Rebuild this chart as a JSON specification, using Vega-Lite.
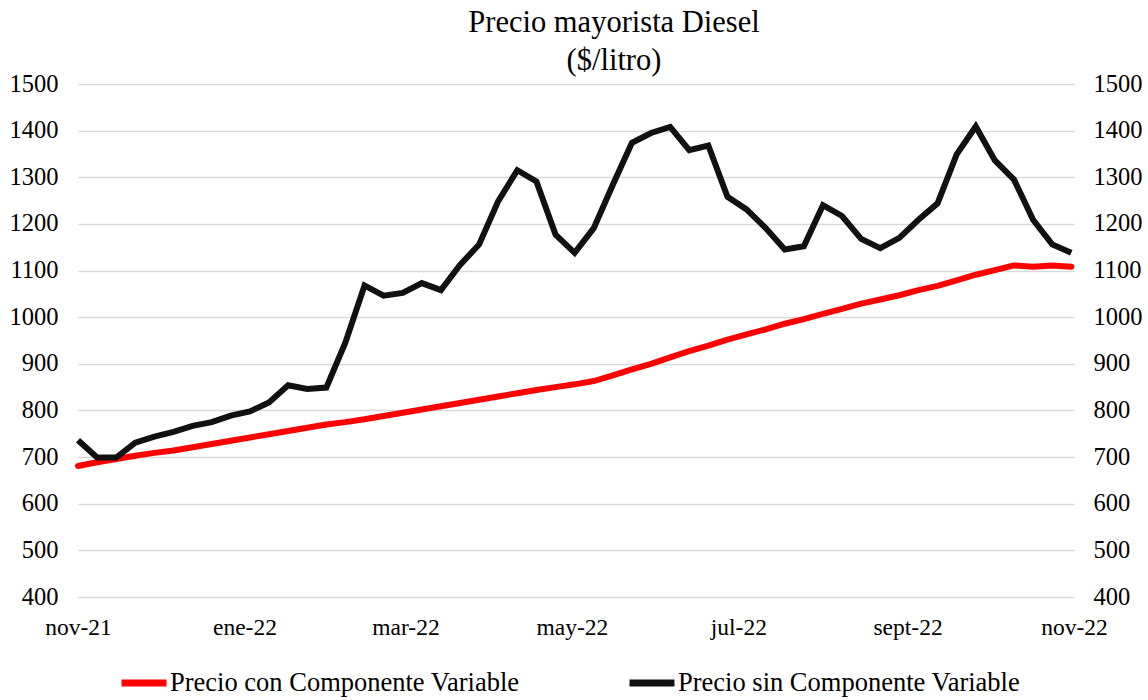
{
  "$schema": "https://vega.github.io/schema/vega-lite/v6.json",
  "width": 996,
  "height": 513,
  "autosize": {"type": "none"},
  "padding": {"left": 78, "top": 84, "right": 74, "bottom": 103},
  "background": "white",
  "config": {
    "view": {"stroke": null},
    "font": "Liberation Serif"
  },
  "title": {
    "text": ["Precio mayorista Diesel", "($/litro)"],
    "font": "Liberation Serif",
    "fontSize": 30.5,
    "fontWeight": "normal",
    "color": "#000000",
    "lineHeight": 38,
    "anchor": "middle",
    "frame": "group",
    "baseline": "alphabetic",
    "offset": 12,
    "dx": 38,
    "dy": 41
  },
  "data": {
    "values": [
      {"fecha": "2021-11-01T00:00", "con": 681, "sin": 736},
      {"fecha": "2021-11-08T00:00", "con": 689, "sin": 699},
      {"fecha": "2021-11-15T00:00", "con": 696, "sin": 699},
      {"fecha": "2021-11-22T00:00", "con": 703, "sin": 731},
      {"fecha": "2021-11-29T00:00", "con": 709, "sin": 744},
      {"fecha": "2021-12-06T00:00", "con": 714, "sin": 754},
      {"fecha": "2021-12-13T00:00", "con": 721, "sin": 767},
      {"fecha": "2021-12-20T00:00", "con": 728, "sin": 775},
      {"fecha": "2021-12-27T00:00", "con": 735, "sin": 789},
      {"fecha": "2022-01-03T00:00", "con": 742, "sin": 798},
      {"fecha": "2022-01-10T00:00", "con": 749, "sin": 817},
      {"fecha": "2022-01-17T00:00", "con": 756, "sin": 854},
      {"fecha": "2022-01-24T00:00", "con": 763, "sin": 846},
      {"fecha": "2022-01-31T00:00", "con": 770, "sin": 849},
      {"fecha": "2022-02-07T00:00", "con": 775, "sin": 946},
      {"fecha": "2022-02-14T00:00", "con": 781, "sin": 1068},
      {"fecha": "2022-02-21T00:00", "con": 788, "sin": 1046},
      {"fecha": "2022-02-28T00:00", "con": 795, "sin": 1052},
      {"fecha": "2022-03-07T00:00", "con": 802, "sin": 1073},
      {"fecha": "2022-03-14T00:00", "con": 809, "sin": 1058},
      {"fecha": "2022-03-21T00:00", "con": 816, "sin": 1112},
      {"fecha": "2022-03-28T00:00", "con": 823, "sin": 1156},
      {"fecha": "2022-04-04T00:00", "con": 830, "sin": 1249},
      {"fecha": "2022-04-11T00:00", "con": 837, "sin": 1315},
      {"fecha": "2022-04-18T00:00", "con": 844, "sin": 1291},
      {"fecha": "2022-04-25T00:00", "con": 850, "sin": 1177},
      {"fecha": "2022-05-02T00:00", "con": 856, "sin": 1138},
      {"fecha": "2022-05-09T00:00", "con": 863, "sin": 1191},
      {"fecha": "2022-05-16T00:00", "con": 875, "sin": 1284},
      {"fecha": "2022-05-23T00:00", "con": 888, "sin": 1374},
      {"fecha": "2022-05-30T00:00", "con": 900, "sin": 1395},
      {"fecha": "2022-06-06T00:00", "con": 914, "sin": 1408},
      {"fecha": "2022-06-13T00:00", "con": 927, "sin": 1358},
      {"fecha": "2022-06-20T00:00", "con": 939, "sin": 1368},
      {"fecha": "2022-06-27T00:00", "con": 952, "sin": 1258},
      {"fecha": "2022-07-04T00:00", "con": 963, "sin": 1231},
      {"fecha": "2022-07-11T00:00", "con": 974, "sin": 1191},
      {"fecha": "2022-07-18T00:00", "con": 986, "sin": 1145},
      {"fecha": "2022-07-25T00:00", "con": 996, "sin": 1152},
      {"fecha": "2022-08-01T00:00", "con": 1007, "sin": 1240},
      {"fecha": "2022-08-08T00:00", "con": 1018, "sin": 1217},
      {"fecha": "2022-08-15T00:00", "con": 1029, "sin": 1168},
      {"fecha": "2022-08-22T00:00", "con": 1038, "sin": 1148},
      {"fecha": "2022-08-29T00:00", "con": 1047, "sin": 1170},
      {"fecha": "2022-09-05T00:00", "con": 1058, "sin": 1209},
      {"fecha": "2022-09-12T00:00", "con": 1067, "sin": 1244},
      {"fecha": "2022-09-19T00:00", "con": 1079, "sin": 1349},
      {"fecha": "2022-09-26T00:00", "con": 1091, "sin": 1409},
      {"fecha": "2022-10-03T00:00", "con": 1101, "sin": 1336},
      {"fecha": "2022-10-10T00:00", "con": 1111, "sin": 1295},
      {"fecha": "2022-10-17T00:00", "con": 1108, "sin": 1209},
      {"fecha": "2022-10-24T00:00", "con": 1111, "sin": 1156},
      {"fecha": "2022-10-31T00:00", "con": 1108, "sin": 1138}
    ]
  },
  "transform": [
    {"fold": ["con", "sin"], "as": ["serie", "valor"]}
  ],
  "encoding": {
    "x": {
      "field": "fecha",
      "type": "temporal",
      "scale": {
        "domain": [
          {"year": 2021, "month": 11, "date": 1},
          {"year": 2022, "month": 11, "date": 1}
        ]
      },
      "axis": {
        "title": null,
        "values": [
          {"year": 2021, "month": 11, "date": 1},
          {"year": 2022, "month": 1, "date": 1},
          {"year": 2022, "month": 3, "date": 1},
          {"year": 2022, "month": 5, "date": 1},
          {"year": 2022, "month": 7, "date": 1},
          {"year": 2022, "month": 9, "date": 1},
          {"year": 2022, "month": 11, "date": 1}
        ],
        "labelExpr": "['ene','feb','mar','abr','may','jun','jul','ago','sept','oct','nov','dic'][month(datum.value)] + '-' + timeFormat(datum.value, '%y')",
        "grid": false,
        "ticks": false,
        "domain": false,
        "labelFont": "Liberation Serif",
        "labelFontSize": 23.5,
        "labelColor": "#000000",
        "labelPadding": 18,
        "labelFlush": false,
        "labelOverlap": false,
        "labelBaseline": "top"
      }
    },
    "color": {
      "field": "serie",
      "type": "nominal",
      "scale": {"domain": ["con", "sin"], "range": ["#ff0000", "#111111"]},
      "legend": {
        "title": null,
        "orient": "none",
        "legendX": 40,
        "legendY": 573,
        "direction": "horizontal",
        "symbolType": "stroke",
        "symbolSize": 2025,
        "symbolStrokeWidth": 7,
        "labelExpr": "datum.value == 'con' ? 'Precio con Componente Variable' : 'Precio sin Componente Variable'",
        "labelFont": "Liberation Serif",
        "labelFontSize": 26.5,
        "labelColor": "#000000",
        "labelOffset": 0,
        "columnPadding": 95,
        "labelLimit": 600
      }
    }
  },
  "layer": [
    {
      "transform": [{"filter": "datum.serie == 'con'"}],
      "mark": {"type": "line", "strokeWidth": 6, "strokeJoin": "round", "strokeCap": "round"},
      "encoding": {
        "y": {
          "field": "valor",
          "type": "quantitative",
          "scale": {"domain": [400, 1500], "nice": false, "zero": false},
          "axis": {
            "orient": "left",
            "title": null,
            "format": "d",
            "values": [400, 500, 600, 700, 800, 900, 1000, 1100, 1200, 1300, 1400, 1500],
            "grid": true,
            "gridColor": "#d9d9d9",
            "gridWidth": 1.5,
            "ticks": false,
            "domain": false,
            "labelFont": "Liberation Serif",
            "labelFontSize": 24.5,
            "labelColor": "#000000",
            "labelPadding": 20
          }
        }
      }
    },
    {
      "transform": [{"filter": "datum.serie == 'sin'"}],
      "mark": {"type": "line", "strokeWidth": 6, "strokeJoin": "miter", "strokeCap": "butt"},
      "encoding": {
        "y": {
          "field": "valor",
          "type": "quantitative",
          "scale": {"domain": [400, 1500], "nice": false, "zero": false},
          "axis": {
            "orient": "right",
            "title": null,
            "format": "d",
            "values": [400, 500, 600, 700, 800, 900, 1000, 1100, 1200, 1300, 1400, 1500],
            "grid": false,
            "ticks": false,
            "domain": false,
            "labelFont": "Liberation Serif",
            "labelFontSize": 24.5,
            "labelColor": "#000000",
            "labelPadding": 19
          }
        }
      }
    }
  ],
  "resolve": {"scale": {"y": "independent"}, "axis": {"y": "independent"}}
}
